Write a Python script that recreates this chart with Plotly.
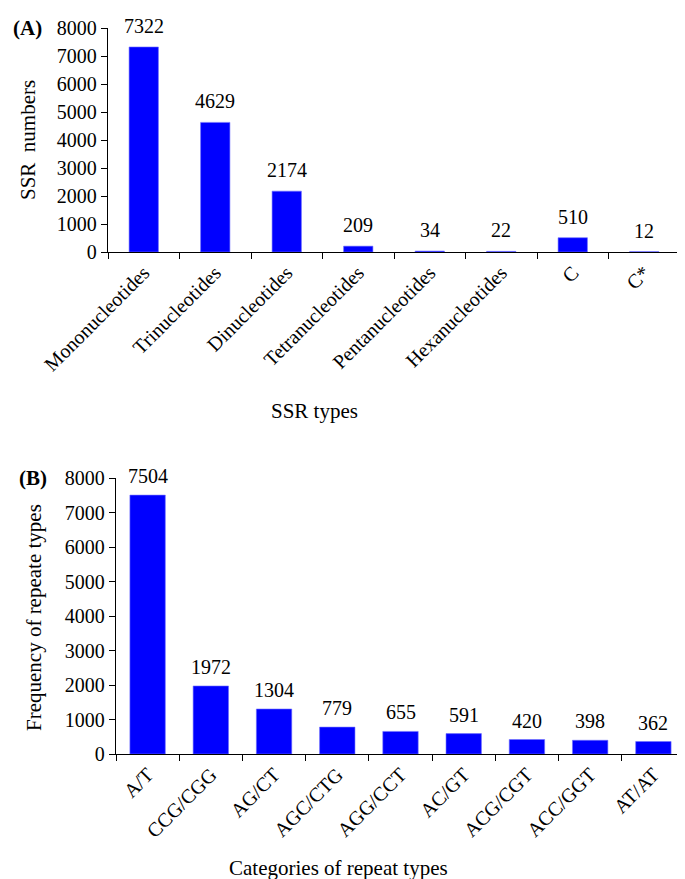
import plotly.graph_objects as go

ssr_types = ["Mononucleotides", "Trinucleotides", "Dinucleotides", "Tetranucleotides",
             "Pentanucleotides", "Hexanucleotides", "C", "C*"]
ssr_numbers = [7322, 4629, 2174, 209, 34, 22, 510, 12]

repeat_types = ["A/T", "CCG/CGG", "AG/CT", "AGC/CTG", "AGG/CCT", "AC/GT", "ACG/CGT", "ACC/GGT", "AT/AT"]
repeat_freq = [7504, 1972, 1304, 779, 655, 591, 420, 398, 362]

y_ticks = [0, 1000, 2000, 3000, 4000, 5000, 6000, 7000, 8000]

FONT = "Liberation Serif, Times New Roman, serif"
W, H = 685, 879
FS = 20

fig = go.Figure()
fig.add_trace(go.Bar(x=ssr_types, y=ssr_numbers,
                     marker=dict(color="#0000ff", line=dict(color="#7070ff", width=0.6)),
                     xaxis="x", yaxis="y", width=0.41))
fig.add_trace(go.Bar(x=repeat_types, y=repeat_freq,
                     marker=dict(color="#0000ff", line=dict(color="#7070ff", width=0.6)),
                     xaxis="x2", yaxis="y2", width=0.56))

# value labels above bars
for cat, val in zip(ssr_types, ssr_numbers):
    fig.add_annotation(x=cat, y=val, xref="x", yref="y", text=str(val), showarrow=False,
                       xanchor="center", yanchor="bottom", yshift=8,
                       font=dict(family=FONT, size=FS, color="black"))
for cat, val in zip(repeat_types, repeat_freq):
    fig.add_annotation(x=cat, y=val, xref="x2", yref="y2", text=str(val), showarrow=False,
                       xanchor="center", yanchor="bottom", yshift=6,
                       font=dict(family=FONT, size=FS, color="black"))

def px_x(p):
    return p / W

def px_y(p):
    return 1 - p / H

axis_common = dict(showline=True, linecolor="black", linewidth=1.3, showgrid=False,
                   zeroline=False, tickfont=dict(family=FONT, size=FS, color="black"),
                   ticks="outside", tickcolor="black", ticklen=6, tickwidth=1.3,
                   automargin=False)

fig.update_layout(
    width=W, height=H,
    margin=dict(l=0, r=0, t=0, b=0, autoexpand=False),
    paper_bgcolor="white", plot_bgcolor="white",
    showlegend=False,
    xaxis=dict(domain=[px_x(100), px_x(672)], anchor="y", tickangle=-45,
               tickson="boundaries", **axis_common),
    yaxis=dict(domain=[px_y(244), px_y(20)], anchor="x", range=[0, 8000],
               tickvals=y_ticks, **axis_common),
    xaxis2=dict(domain=[px_x(108), px_x(677)], anchor="y2", tickangle=-45,
                tickson="boundaries", **axis_common),
    yaxis2=dict(domain=[px_y(746), px_y(470)], anchor="x2", range=[0, 8000],
                tickvals=y_ticks, **axis_common),
)

ann_font = dict(family=FONT, size=21, color="black")

def label(text, x, y, angle=0, bold=False, xanchor="center"):
    fig.add_annotation(text=f"<b>{text}</b>" if bold else text, x=px_x(x), y=px_y(y),
                       xref="paper", yref="paper", xanchor=xanchor, yanchor="middle",
                       textangle=angle, showarrow=False, font=ann_font)

label("(A)", 3, 20, bold=True, xanchor="left")
label("(B)", 9, 470, bold=True, xanchor="left")
label("SSR  numbers", 20, 132, angle=-90)
label("Frequency of repeate types", 26, 610, angle=-90)
label("SSR types", 306, 403)
label("Categories of repeat types", 330, 860)

fig.write_html("out.html")
